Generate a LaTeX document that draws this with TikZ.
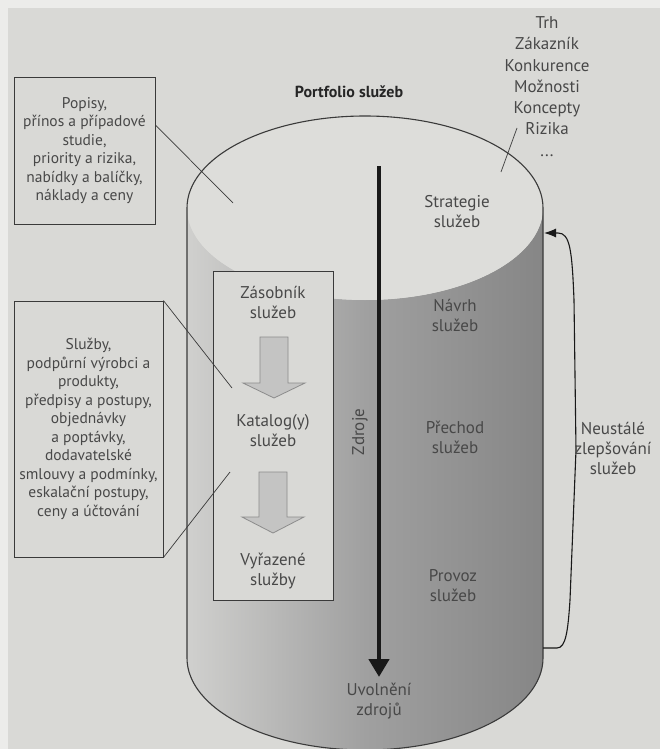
\documentclass[tikz,border=0pt]{standalone}
\usepackage{fontspec}
\setmainfont{PT Sans}
\usetikzlibrary{arrows.meta}

\definecolor{paper}{HTML}{D9D9D6}
\definecolor{margin}{HTML}{ECECEA}
\definecolor{topface}{HTML}{DDDDDA}
\definecolor{bodyL}{HTML}{D0D0CE}
\definecolor{bodyM}{HTML}{A0A0A0}
\definecolor{bodyR}{HTML}{868686}
\definecolor{ink}{HTML}{3A3A3A}
\definecolor{txt}{HTML}{484848}
\definecolor{blockfill}{HTML}{C4C4C3}
\definecolor{blockline}{HTML}{8C8C8C}

\tikzset{
  cyl/.style={draw=ink, line width=1.1pt},
  infobox/.style={draw=ink, line width=0.9pt, inner sep=0pt, align=center,
    text=txt, font=\fontsize{15.5}{18.5}\selectfont},
  lbl/.style={align=center, text=txt, inner sep=1pt,
    font=\fontsize{17}{20}\selectfont},
  conn/.style={draw=ink, line width=0.7pt},
  blockarrow/.style={fill=blockfill, draw=blockline, line width=0.8pt},
}

\begin{document}
\begin{tikzpicture}[x=1pt, y=-1pt]
  \useasboundingbox (0,0) rectangle (660,749);
  % page
  \fill[margin] (0,0) rectangle (660,749);
  \fill[paper] (8,8) rectangle (660,749);

  % cylinder body with side-lit shading
  \path[left color=bodyL, right color=bodyR, middle color=bodyM]
    (187,208) -- (187,658)
    arc[start angle=180, end angle=360, x radius=178pt, y radius=92pt]
    -- (543,208)
    arc[start angle=0, end angle=-180, x radius=178pt, y radius=92pt]
    -- cycle;
  % top face
  \fill[topface] (365,208) ellipse[x radius=178pt, y radius=92pt];
  % outline: upper rim, sides and bottom
  \draw[cyl] (187,208)
    arc[start angle=180, end angle=0, x radius=178pt, y radius=92pt]
    -- (543,658)
    arc[start angle=0, end angle=-180, x radius=178pt, y radius=92pt]
    -- cycle;

  \node[font=\fontsize{16}{18}\selectfont\bfseries, text=black!85] (title)
    at (349,92) {Portfolio služeb};

  % market inputs
  \node[lbl, font=\fontsize{17}{21.3}\selectfont] (inputs) at (547,86.5)
    {Trh\\Zákazník\\Konkurence\\Možnosti\\Koncepty\\Rizika\\...};
  \coordinate (inA) at (517,128);
  \coordinate (inB) at (501,172);
  \draw[conn] (inA) -- (inB);

  % inner pipeline box
  \node[draw=ink, line width=0.9pt, fill=paper, minimum width=120pt,
    minimum height=329pt, inner sep=0pt] (pipe) at (273,435.5) {};
  \node[lbl] (zas) at (273,302) {Zásobník\\služeb};
  \node[lbl] (kat) at (273,431) {Katalog(y)\\služeb};
  \node[lbl] (vyr) at (273,571) {Vyřazené\\služby};

  % block arrows between the pipeline stages
  \draw[blockarrow] (260,337) -- (288,337) -- (288,383) -- (305,383)
    -- (274,398) -- (243,383) -- (260,383) -- cycle;
  \draw[blockarrow] (259,472) -- (287,472) -- (287,517) -- (304,517)
    -- (273,533) -- (242,517) -- (259,517) -- cycle;

  % resources flow
  \coordinate (resTop) at (379,166);
  \coordinate (resEnd) at (379,677);
  \draw[draw=black!90, line width=4.5pt,
    -{Triangle[length=18pt, width=20pt]}] (resTop) -- (resEnd);
  \node[lbl, rotate=90] (zdroje) at (360,432) {Zdroje};
  \node[lbl] (uvol) at (379,701.5) {Uvolnění\\zdrojů};

  % lifecycle stages
  \node[lbl] (strat) at (457,212) {Strategie\\služeb};
  \node[lbl] (navrh) at (455,315) {Návrh\\služeb};
  \node[lbl] (prech) at (455,437) {Přechod\\služeb};
  \node[lbl] (prov)  at (453,586) {Provoz\\služeb};

  % continual improvement loop
  \coordinate (loopLow) at (543,648);
  \coordinate (loopHigh) at (544,233);
  \draw[draw=black!90, line width=1.1pt,
    -{Latex[length=12pt, width=9pt]}]
    (loopLow) -- (557,648)
    .. controls (566,648) and (568,630) .. (570,600)
    -- (576,450) -- (574,300)
    .. controls (572,250) and (570,233) .. (558,233)
    -- (loopHigh);
  \node[lbl] (csi) at (613,448) {Neustálé\\zlepšování\\služeb};

  % description boxes
  \node[infobox, minimum width=141pt, minimum height=147pt] (desc)
    at (84.5,150.5)
    {Popisy,\\přínos a případové\\studie,\\priority a rizika,\\nabídky a balíčky,\\náklady a ceny};
  \coordinate (descEnd) at (233,203);
  \draw[conn] ([yshift=25.5pt]desc.east) -- (descEnd);

  \node[infobox, minimum width=149pt, minimum height=256pt] (cat)
    at (88.5,429)
    {Služby,\\podpůrní výrobci a\\produkty,\\předpisy a postupy,\\objednávky\\a poptávky,\\dodavatelské\\smlouvy a podmínky,\\eskalační postupy,\\ceny a účtování};
  \coordinate (catA) at (232,388);
  \coordinate (catB) at (230,472);
  \draw[conn] (cat.north east) -- (catA);
  \draw[conn] (cat.south east) -- (catB);
\end{tikzpicture}
\end{document}
